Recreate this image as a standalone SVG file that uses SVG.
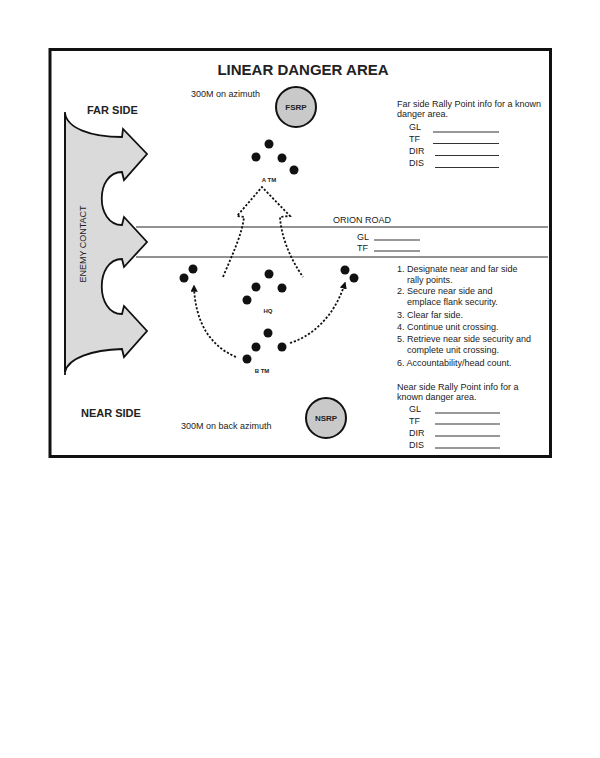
<svg xmlns="http://www.w3.org/2000/svg" width="600" height="758" viewBox="0 0 600 758">
<style>
text{font-family:"Liberation Sans",Arial,sans-serif;fill:#222}
.t{font-size:9px}
.b{font-weight:bold}
.dot{fill:#111}
.rp{fill:#c9c9c9;stroke:#111;stroke-width:2}
.blank{stroke:#333;stroke-width:1.2}
.road{stroke:#6e6e6e;stroke-width:1.6}
.dash{fill:none;stroke:#111;stroke-width:1.8;stroke-dasharray:2.2 1.8}
</style>
<defs>
<marker id="ah" viewBox="0 0 10 10" refX="8" refY="5" markerWidth="4" markerHeight="4" orient="auto" markerUnits="strokeWidth">
<path d="M0 0 L10 5 L0 10 z" fill="#111"/>
</marker>
</defs>
<rect x="0" y="0" width="600" height="758" fill="#fff"/>
<rect x="50" y="49.5" width="500.5" height="407" fill="#fff" stroke="#111" stroke-width="3"/>

<g id="road">
<line class="road" x1="136" y1="227" x2="548" y2="227"/>
<line class="road" x1="136" y1="257" x2="548" y2="257"/>
<text class="t" x="333" y="223">ORION ROAD</text>
<text class="t" x="357" y="240">GL</text>
<line class="blank" x1="374" y1="240" x2="420" y2="240"/>
<text class="t" x="357" y="251">TF</text>
<line class="blank" x1="374" y1="251" x2="420" y2="251"/>
</g>

<g id="enemy-contact">
<path d="M65 113 C67 128 90 137 122 137 L123 129 L147 154 L124 180 L122 172 C95 172 95 225 122 225 L124 217 L147 242 L124 267 L122 259 C95 259 95 314 122 314 L124 306 L147 331 L124 357 L122 349 C92 350 68 358 65 372 Z" fill="#dadada" stroke="#111" stroke-width="1.8" stroke-linejoin="miter"/>
<line x1="65" y1="112" x2="65" y2="375" stroke="#111" stroke-width="1.8"/>
<text class="t" transform="translate(86,244) rotate(-90)" text-anchor="middle">ENEMY CONTACT</text>
</g>

<g id="title"><text x="303" y="75" text-anchor="middle" class="b" font-size="15">LINEAR DANGER AREA</text></g>
<g id="far-side"><text x="87" y="114" class="b" font-size="11">FAR SIDE</text></g>
<g id="near-side"><text x="81" y="417" class="b" font-size="11">NEAR SIDE</text></g>

<g id="fsrp">
<text class="t" x="191" y="97" font-size="8.5">300M on azimuth</text>
<circle class="rp" cx="296" cy="107" r="20"/>
<text x="296" y="110" text-anchor="middle" class="b" font-size="8">FSRP</text>
</g>

<g id="nsrp">
<text class="t" x="181" y="429">300M on back azimuth</text>
<circle class="rp" cx="326" cy="418" r="20"/>
<text x="326" y="421" text-anchor="middle" class="b" font-size="8">NSRP</text>
</g>

<g id="a-team">
<circle class="dot" cx="269" cy="144" r="4.5"/>
<circle class="dot" cx="256" cy="157" r="4.5"/>
<circle class="dot" cx="282" cy="158" r="4.5"/>
<circle class="dot" cx="294" cy="170" r="4.5"/>
<text x="269" y="182" text-anchor="middle" class="b" font-size="6">A TM</text>
</g>

<g id="hq">
<circle class="dot" cx="269" cy="274" r="4.5"/>
<circle class="dot" cx="256" cy="287" r="4.5"/>
<circle class="dot" cx="282" cy="288" r="4.5"/>
<circle class="dot" cx="247" cy="300" r="4.5"/>
<text x="268" y="313" text-anchor="middle" class="b" font-size="6">HQ</text>
</g>

<g id="b-team">
<circle class="dot" cx="268" cy="333" r="4.5"/>
<circle class="dot" cx="256" cy="347" r="4.5"/>
<circle class="dot" cx="282" cy="347" r="4.5"/>
<circle class="dot" cx="247" cy="359" r="4.5"/>
<text x="262" y="373" text-anchor="middle" class="b" font-size="6">B TM</text>
</g>

<g id="left-security">
<circle class="dot" cx="193" cy="269" r="4.5"/>
<circle class="dot" cx="184" cy="278" r="4.5"/>
</g>
<g id="right-security">
<circle class="dot" cx="345" cy="270" r="4.5"/>
<circle class="dot" cx="354" cy="278" r="4.5"/>
</g>

<g id="connectors">
<path class="dash" d="M223 277 C232 255 242 235 244 217 L237 216 L262 187 L290 216 L280 217 C281 235 289 257 303 277"/>
<path class="dash" d="M236 357 C210 346 195 322 194 286" marker-end="url(#ah)"/>
<path class="dash" d="M290 343 C316 335 336 312 345 283" marker-end="url(#ah)"/>
</g>

<g id="far-info">
<text class="t" x="397" y="107">Far side Rally Point info for a known</text>
<text class="t" x="397" y="117">danger area.</text>
<text class="t" x="409" y="130">GL</text><line class="blank" x1="433" y1="132" x2="499" y2="132"/>
<text class="t" x="409" y="142">TF</text><line class="blank" x1="433" y1="143.5" x2="499" y2="143.5"/>
<text class="t" x="409" y="154">DIR</text><line class="blank" x1="435" y1="155.5" x2="499" y2="155.5"/>
<text class="t" x="409" y="166">DIS</text><line class="blank" x1="435" y1="167.5" x2="499" y2="167.5"/>
</g>

<g id="steps">
<text class="t" x="397" y="272">1. Designate near and far side</text>
<text class="t" x="407" y="283">rally points.</text>
<text class="t" x="397" y="294">2. Secure near side and</text>
<text class="t" x="407" y="304.5">emplace flank security.</text>
<text class="t" x="397" y="318">3. Clear far side.</text>
<text class="t" x="397" y="330">4. Continue unit crossing.</text>
<text class="t" x="397" y="342">5. Retrieve near side security and</text>
<text class="t" x="407" y="352.5">complete unit crossing.</text>
<text class="t" x="397" y="366">6. Accountability/head count.</text>
</g>

<g id="near-info">
<text class="t" x="397" y="390">Near side Rally Point info for a</text>
<text class="t" x="397" y="400">known danger area.</text>
<text class="t" x="409" y="412">GL</text><line class="blank" x1="435" y1="413" x2="500" y2="413"/>
<text class="t" x="409" y="424">TF</text><line class="blank" x1="435" y1="424" x2="500" y2="424"/>
<text class="t" x="409" y="436">DIR</text><line class="blank" x1="435" y1="436" x2="500" y2="436"/>
<text class="t" x="409" y="448">DIS</text><line class="blank" x1="435" y1="448" x2="500" y2="448"/>
</g>
</svg>
